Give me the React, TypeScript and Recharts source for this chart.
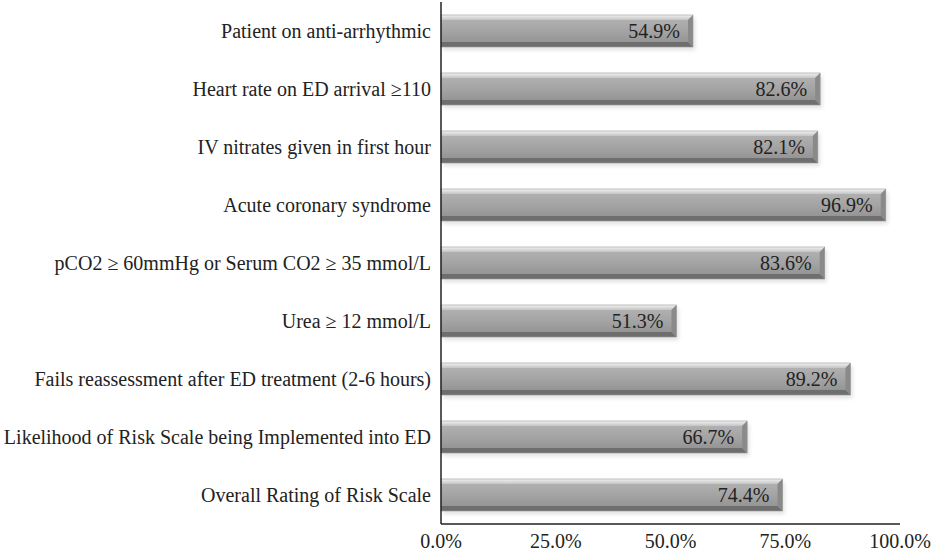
import { BarChart, Bar, XAxis, YAxis, LabelList } from "recharts";

const categories = [
  "Patient on anti-arrhythmic",
  "Heart rate on ED arrival ≥110",
  "IV nitrates given in first hour",
  "Acute coronary syndrome",
  "pCO2 ≥ 60mmHg or Serum CO2 ≥ 35 mmol/L",
  "Urea ≥ 12 mmol/L",
  "Fails reassessment after ED treatment (2-6 hours)",
  "Likelihood of Risk Scale being Implemented into ED",
  "Overall Rating of Risk Scale",
];
const values = [54.9, 82.6, 82.1, 96.9, 83.6, 51.3, 89.2, 66.7, 74.4];
const xTicks = [0, 25, 50, 75, 100];

const data = categories.map((name, i) => ({ name, value: values[i] }));

const FONT = "'Liberation Serif', 'Times New Roman', serif";

// bevelled gray bar with a soft shadow
function BevelBar(props: any) {
  const { x, y, width, height } = props;
  if (!width || width <= 0) return null;
  const b = 5;
  const r = x + width;
  return (
    <g>
      <rect x={x + 2} y={y + 3} width={width} height={height} fill="#000" opacity={0.12} filter="url(#blur)" />
      <rect x={x} y={y} width={width} height={height} fill="url(#barGrad)" />
      {/* top bevel */}
      <polygon points={`${x},${y} ${r},${y} ${r - b},${y + b} ${x},${y + b}`} fill="url(#topGrad)" />
      {/* bottom bevel */}
      <polygon points={`${x},${y + height - b} ${r - b},${y + height - b} ${r},${y + height} ${x},${y + height}`} fill="#6e6e6e" />
      {/* right bevel */}
      <polygon points={`${r - b},${y + b} ${r},${y} ${r},${y + height} ${r - b},${y + height - b}`} fill="#8a8a8a" />
      <rect x={x} y={y} width={width} height={height} fill="none" stroke="#9a9a9a" strokeWidth={0.6} />
    </g>
  );
}

export default function App() {
  return (
    <div style={{ position: "absolute", left: 0, top: 0, background: "#fff" }}>
      <BarChart
        width={933}
        height={553}
        data={data}
        layout="vertical"
        margin={{ top: 2, right: 33, left: 0, bottom: 0 }}
      >
        <defs>
          <linearGradient id="barGrad" x1="0" y1="0" x2="0" y2="1">
            <stop offset="0%" stopColor="#b5b5b5" />
            <stop offset="50%" stopColor="#a4a4a4" />
            <stop offset="100%" stopColor="#8e8e8e" />
          </linearGradient>
          <linearGradient id="topGrad" x1="0" y1="0" x2="0" y2="1">
            <stop offset="0%" stopColor="#f2f2f2" />
            <stop offset="100%" stopColor="#c4c4c4" />
          </linearGradient>
          <filter id="blur" x="-5%" y="-30%" width="110%" height="160%">
            <feGaussianBlur stdDeviation="2" />
          </filter>
        </defs>
        <XAxis
          type="number"
          domain={[0, 100]}
          ticks={xTicks}
          tickFormatter={(v: number) => `${v.toFixed(1)}%`}
          tickLine={false}
          axisLine={{ stroke: "#222", strokeWidth: 1.5 }}
          tick={{ fill: "#222", fontSize: 20, fontFamily: FONT }}
          height={29}
          tickMargin={4}
          interval={0}
        />
        <YAxis
          type="category"
          dataKey="name"
          width={441}
          tickLine={false}
          axisLine={{ stroke: "#222", strokeWidth: 1.5 }}
          tick={{ fill: "#222", fontSize: 20, fontFamily: FONT }}
          tickMargin={4}
          interval={0}
        />
        <Bar dataKey="value" barSize={32} shape={<BevelBar />} isAnimationActive={false}>
          <LabelList
            dataKey="value"
            position="insideRight"
            offset={13}
            formatter={(v: any) => `${Number(v).toFixed(1)}%`}
            style={{ fill: "#222", fontSize: 20, fontFamily: FONT }}
          />
        </Bar>
      </BarChart>
    </div>
  );
}
